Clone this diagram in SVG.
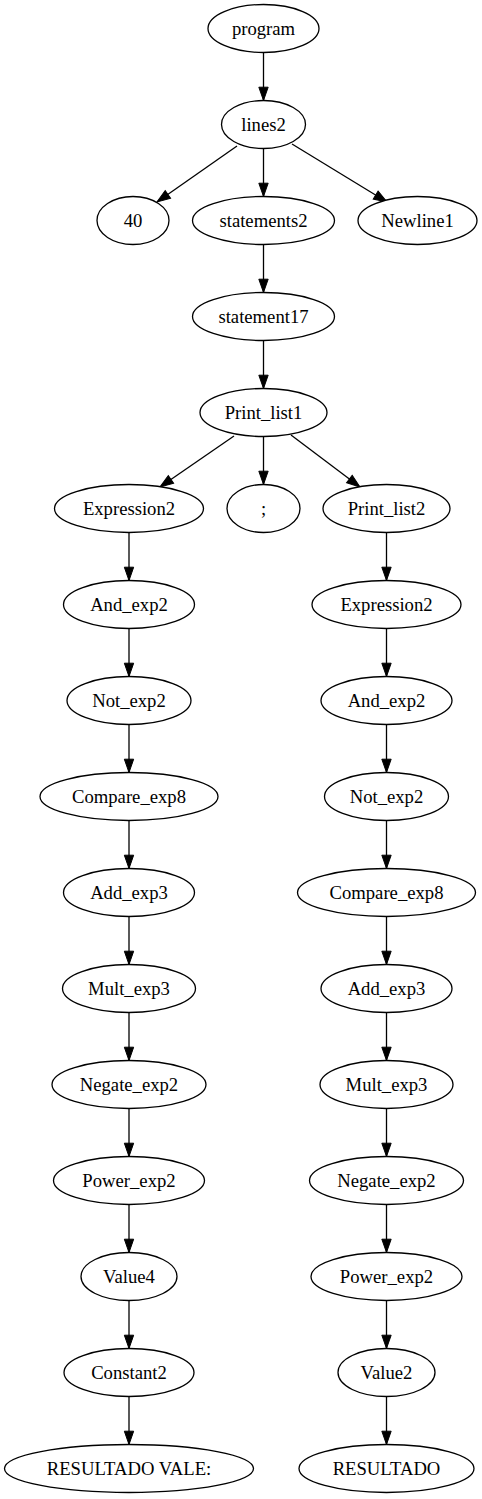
<svg xmlns="http://www.w3.org/2000/svg" width="482" height="1499" viewBox="0 0 482 1499">
<style>
ellipse{fill:#fff;stroke:#000;stroke-width:1.3}
text{font-size:18.67px;text-anchor:middle;fill:#000}
.e line{stroke:#000;stroke-width:1.3;marker-end:url(#ah)}
</style>
<defs>
<marker id="ah" markerUnits="userSpaceOnUse" markerWidth="16" markerHeight="12" refX="13.3" refY="4.67" orient="auto" overflow="visible">
<path d="M0,0 L13.3,4.67 L0,9.33 Z" fill="#000" stroke="#000" stroke-width="1"/>
</marker>
</defs>
<rect width="482" height="1499" fill="#fff"/>
<g class="e" id="edges">
<line x1="263.5" y1="52.5" x2="263.5" y2="100.5"/>
<line x1="237" y1="146" x2="157" y2="202"/>
<line x1="263.5" y1="148.5" x2="263.5" y2="196.5"/>
<line x1="292" y1="144" x2="387" y2="202"/>
<line x1="263.5" y1="244.5" x2="263.5" y2="292.5"/>
<line x1="263.5" y1="340.5" x2="263.5" y2="388.5"/>
<line x1="234" y1="436" x2="160" y2="487"/>
<line x1="263.5" y1="436.5" x2="263.5" y2="484.5"/>
<line x1="291" y1="435" x2="360" y2="487"/>
<line x1="129" y1="532.5" x2="129" y2="580.5"/>
<line x1="129" y1="628.5" x2="129" y2="676.5"/>
<line x1="129" y1="724.5" x2="129" y2="772.5"/>
<line x1="129" y1="820.5" x2="129" y2="868.5"/>
<line x1="129" y1="916.5" x2="129" y2="964.5"/>
<line x1="129" y1="1012.5" x2="129" y2="1060.5"/>
<line x1="129" y1="1108.5" x2="129" y2="1156.5"/>
<line x1="129" y1="1204.5" x2="129" y2="1252.5"/>
<line x1="129" y1="1300.5" x2="129" y2="1348.5"/>
<line x1="129" y1="1396.5" x2="129" y2="1444.5"/>
<line x1="386.5" y1="532.5" x2="386.5" y2="580.5"/>
<line x1="386.5" y1="628.5" x2="386.5" y2="676.5"/>
<line x1="386.5" y1="724.5" x2="386.5" y2="772.5"/>
<line x1="386.5" y1="820.5" x2="386.5" y2="868.5"/>
<line x1="386.5" y1="916.5" x2="386.5" y2="964.5"/>
<line x1="386.5" y1="1012.5" x2="386.5" y2="1060.5"/>
<line x1="386.5" y1="1108.5" x2="386.5" y2="1156.5"/>
<line x1="386.5" y1="1204.5" x2="386.5" y2="1252.5"/>
<line x1="386.5" y1="1300.5" x2="386.5" y2="1348.5"/>
<line x1="386.5" y1="1396.5" x2="386.5" y2="1444.5"/>
</g>
<g id="nodes" font-family="'Liberation Serif', 'Times New Roman', 'DejaVu Serif', serif">
<g id="program"><ellipse cx="263.5" cy="28.5" rx="55.5" ry="24"/><text x="263.5" y="34.5">program</text></g>
<g id="lines2"><ellipse cx="263.5" cy="124.5" rx="42" ry="24"/><text x="263.5" y="130.5">lines2</text></g>
<g id="n40"><ellipse cx="133" cy="220.5" rx="36" ry="24"/><text x="133" y="226.5">40</text></g>
<g id="statements2"><ellipse cx="263.5" cy="220.5" rx="71" ry="24"/><text x="263.5" y="226.5">statements2</text></g>
<g id="Newline1"><ellipse cx="417.5" cy="220.5" rx="59.5" ry="24"/><text x="417.5" y="226.5">Newline1</text></g>
<g id="statement17"><ellipse cx="263.5" cy="316.5" rx="71" ry="24"/><text x="263.5" y="322.5">statement17</text></g>
<g id="Print_list1"><ellipse cx="263.5" cy="412.5" rx="63.5" ry="24"/><text x="263.5" y="418.5">Print_list1</text></g>
<g id="semicolon"><ellipse cx="263.5" cy="508.5" rx="36.5" ry="24"/><text x="263.5" y="514.5">;</text></g>
<g id="L_Expression2"><ellipse cx="129" cy="508.5" rx="74.5" ry="24"/><text x="129" y="514.5">Expression2</text></g>
<g id="L_And_exp2"><ellipse cx="129" cy="604.5" rx="65.5" ry="24"/><text x="129" y="610.5">And_exp2</text></g>
<g id="L_Not_exp2"><ellipse cx="129" cy="700.5" rx="62" ry="24"/><text x="129" y="706.5">Not_exp2</text></g>
<g id="L_Compare_exp8"><ellipse cx="129" cy="796.5" rx="89" ry="24"/><text x="129" y="802.5">Compare_exp8</text></g>
<g id="L_Add_exp3"><ellipse cx="129" cy="892.5" rx="65.5" ry="24"/><text x="129" y="898.5">Add_exp3</text></g>
<g id="L_Mult_exp3"><ellipse cx="129" cy="988.5" rx="66.5" ry="24"/><text x="129" y="994.5">Mult_exp3</text></g>
<g id="L_Negate_exp2"><ellipse cx="129" cy="1084.5" rx="77" ry="24"/><text x="129" y="1090.5">Negate_exp2</text></g>
<g id="L_Power_exp2"><ellipse cx="129" cy="1180.5" rx="75.5" ry="24"/><text x="129" y="1186.5">Power_exp2</text></g>
<g id="L_Value4"><ellipse cx="129" cy="1276.5" rx="48" ry="24"/><text x="129" y="1282.5">Value4</text></g>
<g id="L_Constant2"><ellipse cx="129" cy="1372.5" rx="65" ry="24"/><text x="129" y="1378.5">Constant2</text></g>
<g id="L_RESULTADO_VALE"><ellipse cx="129" cy="1468.5" rx="124.5" ry="24"/><text x="129" y="1474.5">RESULTADO VALE:</text></g>
<g id="Print_list2"><ellipse cx="386.5" cy="508.5" rx="63.5" ry="24"/><text x="386.5" y="514.5">Print_list2</text></g>
<g id="R_Expression2"><ellipse cx="386.5" cy="604.5" rx="74.5" ry="24"/><text x="386.5" y="610.5">Expression2</text></g>
<g id="R_And_exp2"><ellipse cx="386.5" cy="700.5" rx="65.5" ry="24"/><text x="386.5" y="706.5">And_exp2</text></g>
<g id="R_Not_exp2"><ellipse cx="386.5" cy="796.5" rx="62" ry="24"/><text x="386.5" y="802.5">Not_exp2</text></g>
<g id="R_Compare_exp8"><ellipse cx="386.5" cy="892.5" rx="89" ry="24"/><text x="386.5" y="898.5">Compare_exp8</text></g>
<g id="R_Add_exp3"><ellipse cx="386.5" cy="988.5" rx="65.5" ry="24"/><text x="386.5" y="994.5">Add_exp3</text></g>
<g id="R_Mult_exp3"><ellipse cx="386.5" cy="1084.5" rx="66.5" ry="24"/><text x="386.5" y="1090.5">Mult_exp3</text></g>
<g id="R_Negate_exp2"><ellipse cx="386.5" cy="1180.5" rx="77" ry="24"/><text x="386.5" y="1186.5">Negate_exp2</text></g>
<g id="R_Power_exp2"><ellipse cx="386.5" cy="1276.5" rx="75.5" ry="24"/><text x="386.5" y="1282.5">Power_exp2</text></g>
<g id="R_Value2"><ellipse cx="386.5" cy="1372.5" rx="48.5" ry="24"/><text x="386.5" y="1378.5">Value2</text></g>
<g id="R_RESULTADO"><ellipse cx="386.5" cy="1468.5" rx="87.5" ry="24"/><text x="386.5" y="1474.5">RESULTADO</text></g>
</g>
</svg>
